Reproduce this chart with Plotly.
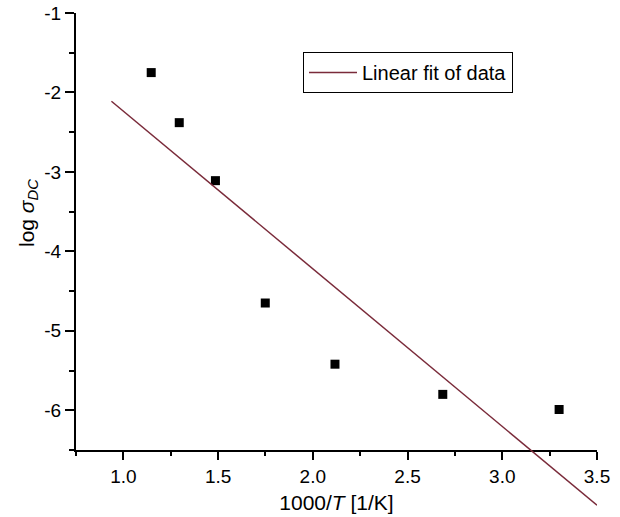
import numpy as np
import plotly.graph_objects as go

# Measured DC conductivity vs inverse temperature
inv_T = [1.147, 1.295, 1.486, 1.749, 2.117, 2.686, 3.300]
log_sigma = [-1.75, -2.38, -3.11, -4.65, -5.42, -5.80, -5.99]

# Span over which the fitted line is drawn
fit_x_span = [0.937, 3.5]

x_tick_vals = [1.0, 1.5, 2.0, 2.5, 3.0, 3.5]
x_tick_labels = ["1.0", "1.5", "2.0", "2.5", "3.0", "3.5"]
y_tick_vals = [-1, -2, -3, -4, -5, -6]
y_tick_labels = ["-1", "-2", "-3", "-4", "-5", "-6"]

x_range = [0.75, 3.5]
y_range = [-6.5, -1.0]
y_range_ext = [-7.3, -1.0]

# Least-squares linear fit
slope, intercept = np.polyfit(inv_T, log_sigma, 1)
fit_x = np.array(fit_x_span)
fit_y = slope * fit_x + intercept

W, H = 620, 517
m_l, m_r, m_t, m_b = 76, 23, 13, 0
plot_w = W - m_l - m_r
plot_h = H - m_t - m_b
axis_bottom_px = 450
d0 = (H - m_b - axis_bottom_px) / plot_h
d1 = 1.0
# extended overlay axis with identical scale so the fit line can run past the x axis
d0_ext = d1 - (d1 - d0) * (y_range_ext[1] - y_range_ext[0]) / (y_range[1] - y_range[0])
d0_ext = max(d0_ext, 0.0)

font = "Liberation Sans, Arial, sans-serif"
line_color = "#7a2b3a"

fig = go.Figure()
fig.add_trace(go.Scatter(
    x=inv_T, y=log_sigma, mode="markers",
    marker=dict(symbol="square", size=9, color="black"),
    showlegend=False, xaxis="x", yaxis="y",
))
fig.add_trace(go.Scatter(
    x=fit_x, y=fit_y, mode="lines",
    line=dict(color=line_color, width=1.5),
    name="Linear fit of data", xaxis="x2", yaxis="y2",
))

axis_common = dict(
    showgrid=False, zeroline=False, showline=True, linecolor="black",
    linewidth=2, ticks="outside", tickcolor="black", tickwidth=2,
    tickfont=dict(family=font, size=19, color="black"),
)

fig.update_layout(
    width=W, height=H,
    margin=dict(l=m_l, r=m_r, t=m_t, b=m_b),
    paper_bgcolor="white", plot_bgcolor="rgba(0,0,0,0)",
    font=dict(family=font, color="black"),
    xaxis=dict(
        range=x_range, domain=[0, 1], anchor="y",
        tickvals=x_tick_vals, ticktext=x_tick_labels, ticklen=8,
        minor=dict(dtick=0.25, tick0=0.75, ticklen=4, ticks="outside",
                   tickcolor="black", tickwidth=2),
        title=dict(text="1000/<i>T</i> [1/K]",
                   font=dict(family=font, size=21), standoff=10),
        automargin=False,
        **axis_common,
    ),
    yaxis=dict(
        range=y_range, domain=[d0, d1], anchor="x",
        tickvals=y_tick_vals, ticktext=y_tick_labels, ticklen=9,
        minor=dict(dtick=0.5, tick0=-1, ticklen=5, ticks="outside",
                   tickcolor="black", tickwidth=2),
        automargin=False,
        **axis_common,
    ),
    xaxis2=dict(range=x_range, domain=[0, 1], anchor="y2", visible=False,
                matches="x"),
    yaxis2=dict(range=y_range_ext, domain=[d0_ext, d1], anchor="x2",
                visible=False),
    legend=dict(
        x=(303 - m_l) / plot_w, y=(H - m_b - 52) / plot_h,
        xanchor="left", yanchor="top",
        bordercolor="black", borderwidth=1, bgcolor="white",
        itemwidth=48,
        font=dict(family=font, size=20, color="black"),
    ),
    annotations=[dict(
        text="log <i>σ</i><sub><i>DC</i></sub>",
        xref="paper", yref="paper",
        x=(28 - m_l) / plot_w, y=(H - m_b - 213) / plot_h,
        xanchor="center", yanchor="middle", textangle=-90, showarrow=False,
        font=dict(family=font, size=21, color="black"),
    )],
)

fig.write_html("out.html")
